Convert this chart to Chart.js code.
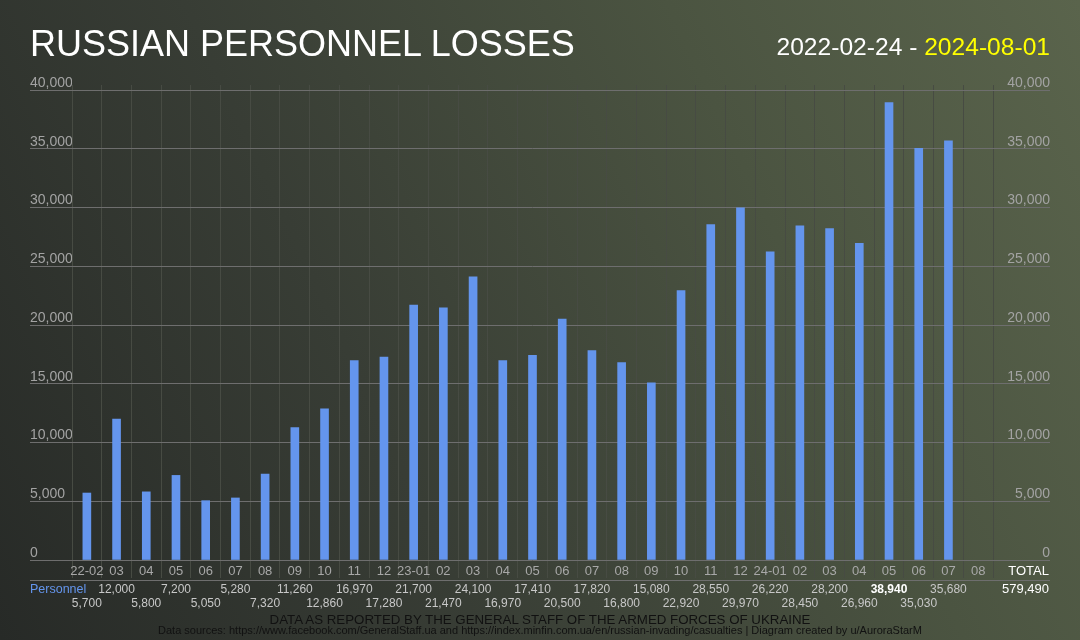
<!DOCTYPE html>
<html>
<head>
<meta charset="utf-8">
<script src="https://cdn.jsdelivr.net/npm/chart.js@4.4.1/dist/chart.umd.min.js"></script>
<style>
  html, body { margin: 0; padding: 0; }
  body { width: 1080px; height: 640px; overflow: hidden; font-family: "Liberation Sans", Arial, sans-serif; }
  #wrap {
    position: relative; width: 1080px; height: 640px;
    background: linear-gradient(65deg, #272a27 0%, #383d35 35%, #4b5441 70%, #5a644c 100%);
  }
  #chart { position: absolute; left: 0; top: 0; }
  .txt { position: absolute; white-space: nowrap; }
  #title { left: 30px; top: 25.5px; font-size: 36px; line-height: 36px; color: #fff; }
  #dates { right: 30px; top: 34.5px; font-size: 24.6px; line-height: 24.6px; color: #fff; }
  #dates span { color: #ffff00; }
  #note { left: 0; width: 1080px; text-align: center; top: 612.7px; font-size: 13.3px; line-height: 13.3px; color: #111; }
  #src { left: 0; width: 1080px; text-align: center; top: 624.7px; font-size: 11px; line-height: 11px; color: #111; }
</style>
</head>
<body>
<div id="wrap">
  <canvas id="chart" width="1080" height="640"></canvas>
  <div class="txt" id="title">RUSSIAN PERSONNEL LOSSES</div>
  <div class="txt" id="dates">2022-02-24 - <span>2024-08-01</span></div>
  <div class="txt" id="note">DATA AS REPORTED BY THE GENERAL STAFF OF THE ARMED FORCES OF UKRAINE</div>
  <div class="txt" id="src">Data sources: https://www.facebook.com/GeneralStaff.ua and https://index.minfin.com.ua/en/russian-invading/casualties | Diagram created by u/AuroraStarM</div>
</div>
<script>
// data
const months = ["22-02", "03", "04", "05", "06", "07", "08", "09", "10", "11", "12",
  "23-01", "02", "03", "04", "05", "06", "07", "08", "09", "10", "11", "12",
  "24-01", "02", "03", "04", "05", "06", "07", "08"];
const personnel = [5700, 12000, 5800, 7200, 5050, 5280, 7320, 11260, 12860, 16970, 17280,
  21700, 21470, 24100, 16970, 17410, 20500, 17820, 16800, 15080, 22920, 28550, 29970,
  26220, 28450, 28200, 26960, 38940, 35030, 35680, null];
const seriesName = "Personnel";
const yMax = 40000;
const yStep = 5000;

const total = personnel.reduce((s, v) => s + (v || 0), 0);
const peak = Math.max(...personnel.filter(v => v != null));

const FONT = "'Liberation Sans', Arial, sans-serif";
Chart.defaults.font.family = FONT;

const hLine = "#6e6e6e";
const vLine = "#474b43";

// table of values under the axis
const tablePlugin = {
  id: "valueTable",
  afterDraw(chart) {
    const ctx = chart.ctx;
    const xs = chart.scales.x;
    const base = xs.bottom;
    ctx.save();
    ctx.strokeStyle = hLine;
    ctx.lineWidth = 1;
    ctx.beginPath();
    ctx.moveTo(30, base + 0.5);
    ctx.lineTo(1050, base + 0.5);
    ctx.stroke();

    ctx.textBaseline = "alphabetic";
    ctx.font = "12.5px " + FONT;
    ctx.textAlign = "left";
    ctx.fillStyle = "#6495ed";
    ctx.fillText(seriesName, 30, base + 13);

    ctx.textAlign = "center";
    personnel.forEach((v, i) => {
      if (v == null) return;
      const px = xs.getPixelForValue(i);
      const py = i % 2 ? base + 13 : base + 27;
      if (v === peak) {
        ctx.font = "bold 12px " + FONT;
        ctx.fillStyle = "#ffffff";
      } else {
        ctx.font = "12px " + FONT;
        ctx.fillStyle = "#c8c8c8";
      }
      ctx.fillText(v.toLocaleString("en-US"), px, py);
    });

    ctx.textAlign = "right";
    ctx.fillStyle = "#ffffff";
    ctx.font = "13px " + FONT;
    ctx.fillText("TOTAL", 1049, base - 5.5);
    ctx.fillText(total.toLocaleString("en-US"), 1049, base + 13);
    ctx.restore();
  }
};

new Chart(document.getElementById("chart"), {
  type: "bar",
  data: {
    labels: months,
    datasets: [{
      label: seriesName,
      data: personnel,
      backgroundColor: "#6495ed",
      borderWidth: 0,
      barThickness: 8,
      xAxisID: "x",
      yAxisID: "y",
    }],
  },
  options: {
    responsive: false,
    animation: false,
    layout: { padding: { left: 30, right: 30, top: 85, bottom: 60 } },
    plugins: { legend: { display: false }, tooltip: { enabled: false } },
    scales: {
      x: {
        position: "bottom",
        offset: true,
        grid: { offset: true, color: vLine, tickLength: 18, tickColor: vLine },
        border: { display: false },
        ticks: { color: "#a8a8a8", font: { size: 13 }, padding: -14, maxRotation: 0, autoSkip: false },
        afterFit: (a) => { a.height = 20; },
      },
      xTop: {
        type: "category",
        position: "top",
        offset: true,
        grid: { offset: true, color: vLine, drawOnChartArea: false, tickLength: 5 },
        border: { display: false },
        ticks: { display: false },
        afterFit: (a) => { a.height = 5; },
      },
      y: {
        position: "left",
        min: 0,
        max: yMax,
        grid: { color: hLine, tickLength: 42 },
        border: { display: false },
        ticks: { stepSize: yStep, color: "#a3a3a3", font: { size: 14 }, crossAlign: "far", labelOffset: -7 },
        afterFit: (a) => { a.width = 42; },
      },
      y1: {
        position: "right",
        min: 0,
        max: yMax,
        grid: { color: hLine, tickLength: 57, drawOnChartArea: false },
        border: { display: false },
        ticks: { stepSize: yStep, color: "#a3a3a3", font: { size: 14 }, crossAlign: "far", labelOffset: -7 },
        afterFit: (a) => { a.width = 57; },
      },
    },
  },
  plugins: [tablePlugin],
});
</script>
</body>
</html>
